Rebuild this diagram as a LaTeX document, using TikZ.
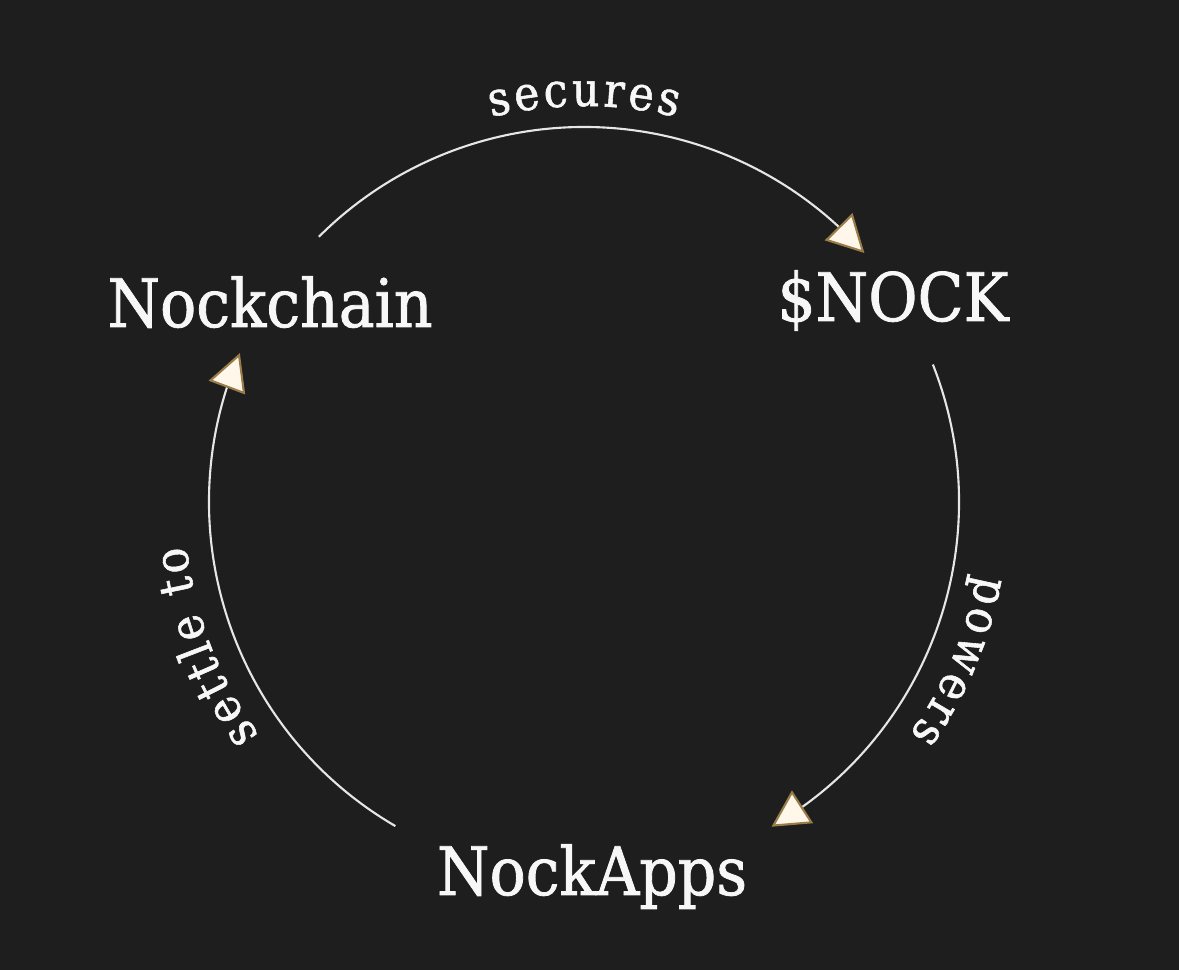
\documentclass[tikz,border=0pt]{standalone}
\usepackage{fontspec}
\setmainfont{DejaVu Serif Condensed}[FakeBold=1.2]
\usetikzlibrary{arrows.meta,bending}
\definecolor{bg}{HTML}{1E1E1E}
\definecolor{ink}{HTML}{F7F7F7}
\definecolor{wire}{HTML}{E6E6E6}
\definecolor{tipfill}{HTML}{FFF8EA}
\definecolor{tipedge}{HTML}{9A7C48}
\newcommand\bigfnt{\fontsize{19}{22}\selectfont}
\newcommand\smallfnt{\fontsize{13.5}{15}\selectfont}
\newbox\arcbox
\newdimen\arcw
\newcommand\measurech[1]{%
  \pgfinterruptpicture
    \setbox\arcbox\hbox{\normalfont\smallfnt#1}%
    \global\arcw=\wd\arcbox
  \endpgfinterruptpicture
}
\tikzset{
  lbl/.style={text=ink, font=\bigfnt, inner sep=0pt, anchor=base},
  arclet/.style={text=ink, font=\smallfnt, inner sep=0pt, anchor=base},
  flow/.style={draw=wire, line width=0.6pt,
    -{Triangle[length=10.5pt,width=11pt,fill=tipfill,color=tipedge,line width=0.6pt]}},
}
% #1 name, #2 radius (px), #3 mid angle, #4 extra gap (pt), #5 letters
\newcommand\arclabel[5]{%
  \gdef\arcTot{0}\gdef\arcN{0}%
  \foreach \ch in {#5}{%
    \measurech{\ch}%
    \pgfmathsetmacro\tmpw{\arcTot+\arcw}%
    \xdef\arcTot{\tmpw}%
    \pgfmathtruncatemacro\tmpn{\arcN+1}\xdef\arcN{\tmpn}%
  }%
  \pgfmathsetmacro\arcK{57.29578/(#2*0.284528)}%
  \xdef\arcK{\arcK}%
  \pgfmathsetmacro\tmpc{#3+(\arcTot+(\arcN-1)*#4)/2*\arcK}%
  \xdef\arcCur{\tmpc}%
  \foreach \ch [count=\i] in {#5}{%
    \measurech{\ch}%
    \pgfmathsetmacro\arcTh{\arcCur-\arcw/2*\arcK}%
    \node[arclet, rotate=\arcTh-90] (#1-\i) at ([shift={(O)}]\arcTh:#2) {\ch};%
    \pgfmathsetmacro\tmpc{\arcCur-(\arcw+#4)*\arcK}%
    \xdef\arcCur{\tmpc}%
  }%
}
\begin{document}
\begin{tikzpicture}[x=0.01cm,y=0.01cm]
  \fill[bg] (0,0) rectangle (1179,970);
  \useasboundingbox (0,0) rectangle (1179,970);
  \coordinate (O) at (584,468);

  % main nodes
  \node[lbl] (nockchain) at (270,643) {Nockchain};
  \node[lbl] (nock) at (893,649) {\$NOCK};
  \node[lbl] (apps) at (592,75) {NockApps};

  % arc start points
  \coordinate (a1) at ([shift={(O)}]135:375);
  \coordinate (a2) at ([shift={(O)}]21.5:375);
  \coordinate (a3) at ([shift={(O)}]-120.2:375);

  \draw[flow] (a1) arc[start angle=135, end angle=41.6, radius=375];
  \draw[flow] (a2) arc[start angle=21.5, end angle=-60, radius=375];
  \draw[flow] (a3) arc[start angle=-120.2, end angle=-203.4, radius=375];

  % curved labels
  \arclabel{secures}{396}{90}{1.0}{s,e,c,u,r,e,s}
  \arclabel{powers}{400}{-23}{1.0}{p,o,w,e,r,s}
  \arclabel{settle}{400}{201}{1.0}{s,e,t,t,l,e,\space,t,o}
\end{tikzpicture}
\end{document}
